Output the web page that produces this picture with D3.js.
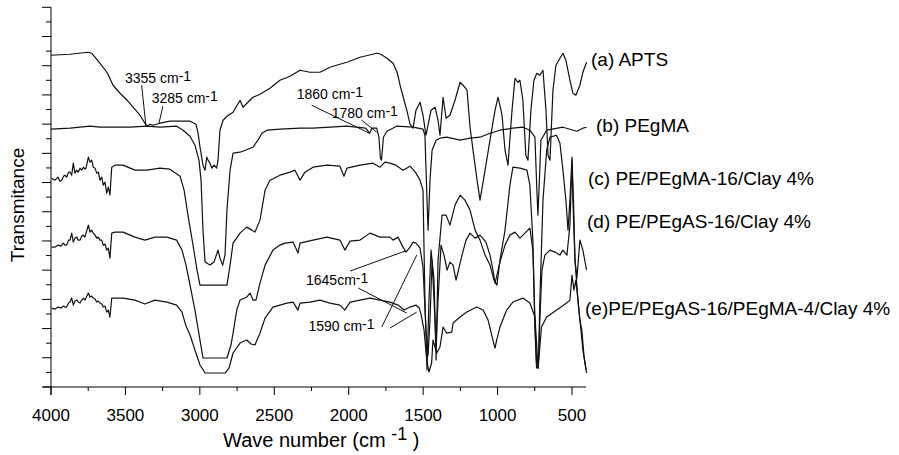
<!DOCTYPE html>
<html>
<head>
<meta charset="utf-8">
<script src="https://cdn.jsdelivr.net/npm/d3@7"></script>
<style>
  body { margin: 0; background: #fff; }
  svg { display: block; font-family: "Liberation Sans", Arial, sans-serif; }
</style>
</head>
<body>
<div id="chart"></div>
<script>
// --- données : [nombre d'onde (cm-1), transmittance (u.a.)] ---
const apts = [
  [4000,332],[3872,333],[3751,335],[3725,334],[3671,324],[3624,315],[3583,302],[3536,294],[3489,287],[3449,280],
  [3402,272],[3369,264],[3355,261],[3335,263],[3315,262],[3268,264],[3201,266],[3133,266],[3066,266],[3026,263],
  [3012,254],[2999,240],[2979,222],[2965,217],[2954,230],[2945,227],[2932,224],[2919,219],[2905,222],[2887,219],
  [2878,227],[2865,257],[2844,267],[2818,271],[2777,275],[2730,287],[2710,280],[2684,284],[2643,290],[2596,293],
  [2529,299],[2462,307],[2394,311],[2327,317],[2260,315],[2193,315],[2126,320],[2059,323],[2012,325],[1924,330],
  [1812,334],[1784,333],[1743,329],[1702,324],[1675,315],[1655,302],[1628,287],[1610,277],[1588,263],[1568,259],
  [1548,277],[1521,285],[1501,272],[1481,252],[1467,262],[1447,277],[1420,280],[1400,267],[1387,252],[1366,290],
  [1346,269],[1320,272],[1286,287],[1252,305],[1232,302],[1205,297],[1185,260],[1165,237],[1138,207],[1118,187],
  [1084,217],[1051,247],[1017,277],[997,290],[970,272],[950,237],[930,222],[903,277],[883,309],[863,305],
  [850,307],[830,287],[810,232],[796,227],[776,277],[756,307],[736,314],[716,312],[695,317],[675,277],
  [661,232],[648,227],[628,297],[608,322],[581,329],[561,334],[541,327],[514,307],[494,294],[474,292],
  [447,302],[427,315],[402,325]
];
const pegma = [
  [4000,258],[3872,259],[3738,261],[3671,260],[3557,260],[3469,260],[3357,261],[3268,260],[3156,261],[3113,257],
  [3066,251],[3033,242],[3006,227],[2992,207],[2979,157],[2965,125],[2932,122],[2905,125],[2878,137],[2865,129],
  [2847,122],[2831,132],[2818,177],[2797,217],[2777,234],[2730,235],[2643,240],[2610,247],[2583,254],[2549,257],
  [2462,258],[2327,259],[2240,259],[2126,260],[2014,261],[1886,259],[1860,254],[1844,259],[1812,259],[1797,250],
  [1787,229],[1780,227],[1774,237],[1767,250],[1743,256],[1678,261],[1568,260],[1501,258],[1488,252],[1474,187],
  [1467,157],[1454,207],[1440,237],[1413,247],[1387,249],[1342,250],[1252,247],[1185,249],[1118,250],[1051,254],
  [984,257],[897,259],[830,260],[783,257],[749,250],[736,197],[729,172],[719,207],[709,247],[670,257],
  [561,260],[467,256],[427,259],[402,260]
];
const peMa16 = [
  [3995,209],[3973,207],[3953,210],[3940,206],[3928,207],[3916,211],[3906,212],[3895,210],[3882,215],[3872,215],
  [3861,212],[3850,224],[3839,214],[3827,217],[3817,215],[3805,219],[3794,217],[3783,220],[3772,218],[3765,219],
  [3749,230],[3738,225],[3727,227],[3716,220],[3704,219],[3693,214],[3682,215],[3671,207],[3659,210],[3649,202],
  [3637,205],[3626,194],[3615,200],[3604,192],[3592,220],[3570,222],[3516,222],[3436,217],[3355,217],[3268,219],
  [3201,218],[3133,211],[3106,197],[3080,172],[3046,142],
  [3019,117],[2999,102],[2979,102],[2818,102],[2797,122],[2777,144],[2730,154],[2685,160],[2650,157],[2630,155],
  [2596,167],[2562,197],[2529,207],[2462,212],[2394,215],[2361,217],[2327,207],[2294,215],[2240,220],[2146,222],
  [2059,221],[2032,211],[2012,219],[1924,222],[1837,224],[1790,220],[1757,225],[1723,224],[1683,222],[1635,217],
  [1588,221],[1548,214],[1521,207],[1501,197],[1488,87],[1474,17],[1461,87],[1447,137],[1427,107],[1413,27],
  [1400,127],[1373,172],[1346,172],[1320,162],[1286,182],[1252,192],[1219,187],[1185,177],[1151,157],[1118,147],
  [1084,132],[1051,122],[1024,107],[1004,102],[984,127],[950,157],[917,202],[897,220],[850,219],[803,217],
  [783,202],[763,147],[749,57],[738,19],[726,19],[716,87],[695,187],[670,237],[648,250],[604,252],
  [581,244],[561,217],[541,187],[527,157],[514,187],[500,230],[494,187],[480,127],[460,87],[440,57],
  [427,37],[406,17]
];
const peAs16 = [
  [3995,140],[3973,140],[3951,142],[3933,141],[3917,144],[3906,142],[3895,142],[3882,147],[3872,147],[3861,154],
  [3850,145],[3839,149],[3827,150],[3817,147],[3805,147],[3794,151],[3783,152],[3772,150],[3749,162],[3738,155],
  [3727,157],[3716,154],[3704,152],[3693,149],[3682,150],[3671,147],[3659,147],[3649,142],[3637,143],[3626,137],
  [3615,139],[3604,129],[3592,154],[3570,155],[3516,155],[3436,150],[3369,147],[3302,150],[3221,150],[3156,147],
  [3120,137],[3093,122],
  [3066,102],[3033,77],[2999,47],[2979,29],[2818,29],[2791,42],[2777,54],[2752,77],[2730,87],[2685,90],
  [2663,94],[2643,87],[2623,87],[2596,104],[2562,122],[2509,137],[2462,142],[2428,144],[2374,145],[2341,134],
  [2327,144],[2240,147],[2146,150],[2059,147],[2026,137],[1991,146],[1924,147],[1857,154],[1790,150],[1723,150],
  [1702,147],[1669,150],[1635,140],[1615,135],[1588,140],[1568,145],[1548,144],[1521,139],[1501,120],[1481,57],
  [1467,32],[1454,67],[1440,127],[1427,87],[1413,42],[1400,87],[1380,142],[1360,132],[1339,117],[1320,125],
  [1299,122],[1279,107],[1266,115],[1239,132],[1212,147],[1185,154],[1151,149],[1118,152],[1078,145],[1051,132],
  [1031,117],[1017,104],[1004,112],[984,125],[950,142],[917,152],[883,155],[850,149],[816,154],[783,159],
  [763,137],[749,67],[738,22],[726,19],[716,67],[702,117],[682,132],[648,137],[615,135],[581,132],
  [561,137],[534,132],[514,162],[500,227],[490,187],[480,127],[467,109],[447,147],[427,137],[402,117]
];
const peAs16Ma4 = [
  [3995,79],[3973,78],[3951,80],[3933,79],[3917,81],[3906,80],[3895,80],[3882,84],[3872,85],[3861,89],
  [3850,82],[3839,86],[3827,87],[3817,85],[3805,84],[3794,87],[3783,89],[3772,87],[3749,94],[3738,90],
  [3727,91],[3716,89],[3704,88],[3693,85],[3682,86],[3671,84],[3659,83],[3649,80],[3637,81],[3626,75],
  [3615,77],[3604,70],[3592,89],[3570,89],[3516,89],[3436,87],[3369,83],[3302,87],[3221,85],[3156,82],
  [3120,75],[3093,61],
  [3066,52],[3033,37],[2999,22],[2965,14],[2831,14],[2804,19],[2777,34],[2730,44],[2685,47],[2656,43],
  [2630,42],[2596,54],[2562,69],[2509,80],[2462,82],[2415,84],[2374,85],[2341,77],[2327,84],[2260,85],
  [2193,87],[2126,84],[2059,82],[2026,77],[1991,85],[1924,87],[1857,89],[1790,87],[1723,85],[1669,82],
  [1628,77],[1588,80],[1548,82],[1526,79],[1513,72],[1494,57],[1476,27],[1461,15],[1443,24],[1434,47],
  [1409,34],[1387,40],[1366,60],[1342,54],[1308,55],[1299,64],[1252,70],[1207,75],[1140,80],[1097,77],
  [1064,67],[1031,47],[1017,39],[1006,47],[984,60],[939,77],[897,85],[830,89],[783,84],[749,70],
  [738,44],[729,20],[716,40],[705,60],[670,70],[603,77],[536,84],[514,87],[500,112],[487,97],
  [474,107],[460,87],[447,67],[434,57],[420,32],[402,14]
];

// étiquettes
const xTicksMajor = [4000, 3500, 3000, 2500, 2000, 1500, 1000, 500];
const xTicksMinor = [3750, 3250, 2750, 2250, 1750, 1250, 750];
const seriesNames = ["(a) APTS", "(b) PEgMA", "(c) PE/PEgMA-16/Clay 4%", "(d) PE/PEgAS-16/Clay 4%", "(e)PE/PEgAS-16/PEgMA-4/Clay 4%"];
const annotations = [
  {num: "3355", sep: " ", at: [3503, 304], lines: [[[3391, 302], [3362, 261]]]},
  {num: "3285", sep: " ", at: [3324, 284], lines: [[[3248, 281], [3275, 264]]]},
  {num: "1860", sep: " ", at: [2349, 288], lines: [[[2249, 282], [1862, 254]]]},
  {num: "1780", sep: " ", at: [2114, 269], lines: [[[1913, 267], [1812, 255]]]},
  {num: "1645", sep: "", at: [2287, 102], lines: [[[1991, 116], [1622, 136]], [[1936, 99], [1610, 74]]]},
  {num: "1590", sep: " ", at: [2271, 56], lines: [[[1778, 60], [1543, 132]], [[1723, 59], [1543, 75]]]}
];

const largeur = 899, hauteur = 455;
const svg = d3.select("#chart").append("svg")
  .attr("width", largeur).attr("height", hauteur);

const x = d3.scaleLinear().domain([4000, 406]).range([51, 586]);
const y = d3.scaleLinear().domain([0, 380]).range([387, 7.3]);

// axe X
const gx = svg.append("g").attr("transform", "translate(0,387)");
gx.append("line").attr("x1", 43).attr("x2", 586).attr("stroke", "#000");
gx.selectAll(".maj").data(xTicksMajor).join("line")
  .attr("x1", d => x(d)).attr("x2", d => x(d)).attr("y1", 0).attr("y2", 8).attr("stroke", "#000");
gx.selectAll(".min").data(xTicksMinor).join("line")
  .attr("x1", d => x(d)).attr("x2", d => x(d)).attr("y1", 0).attr("y2", 4).attr("stroke", "#000");
gx.selectAll("text").data(xTicksMajor).join("text")
  .attr("x", d => x(d)).attr("y", 34).attr("text-anchor", "middle")
  .attr("font-size", 17).text(d => d);

// axe Y (sans étiquettes)
const yTicks = d3.range(27).map(i => i * 380 / 26);
const gy = svg.append("g").attr("transform", "translate(51,0)");
gy.append("line").attr("y1", 7.3).attr("y2", 395).attr("stroke", "#000");
gy.selectAll("line.t").data(yTicks).join("line").attr("class", "t")
  .attr("x1", (d, i) => i % 2 === 0 ? -9 : -5).attr("x2", 0)
  .attr("y1", d => y(d)).attr("y2", d => y(d)).attr("stroke", "#000");

// titres
const tx = svg.append("text").attr("x", 223).attr("y", 447).attr("font-size", 20);
tx.append("tspan").text("Wave number (cm ");
tx.append("tspan").attr("dy", -7).attr("font-size", 18).text("-1");
tx.append("tspan").attr("dy", 7).text(" )");
svg.append("text").attr("transform", "translate(24,205) rotate(-90)")
  .attr("text-anchor", "middle").attr("font-size", 19).text("Transmitance");

// courbes
const line = d3.line().x(d => x(d[0])).y(d => y(d[1]));
const series = [apts, pegma, peMa16, peAs16, peAs16Ma4];
svg.append("g").selectAll("path").data(series).join("path")
  .attr("d", line).attr("fill", "none").attr("stroke", "#111")
  .attr("stroke-width", 1.2).attr("stroke-linejoin", "round");

// noms des séries
const labelPos = [[591, 66], [596, 132], [588, 185], [587, 228], [585, 315]];
svg.append("g").selectAll("text").data(seriesNames).join("text")
  .attr("x", (d, i) => labelPos[i][0]).attr("y", (d, i) => labelPos[i][1])
  .attr("font-size", 19).text(d => d);

// annotations
const ga = svg.append("g");
annotations.forEach(a => {
  const t = ga.append("text").attr("x", x(a.at[0])).attr("y", y(a.at[1])).attr("font-size", 14);
  t.append("tspan").text(a.num + a.sep + "cm");
  t.append("tspan").attr("dy", -2).text("-1");
  a.lines.forEach(l => ga.append("line")
    .attr("x1", x(l[0][0])).attr("y1", y(l[0][1]))
    .attr("x2", x(l[1][0])).attr("y2", y(l[1][1]))
    .attr("stroke", "#111").attr("stroke-width", 1));
});
</script>
</body>
</html>
